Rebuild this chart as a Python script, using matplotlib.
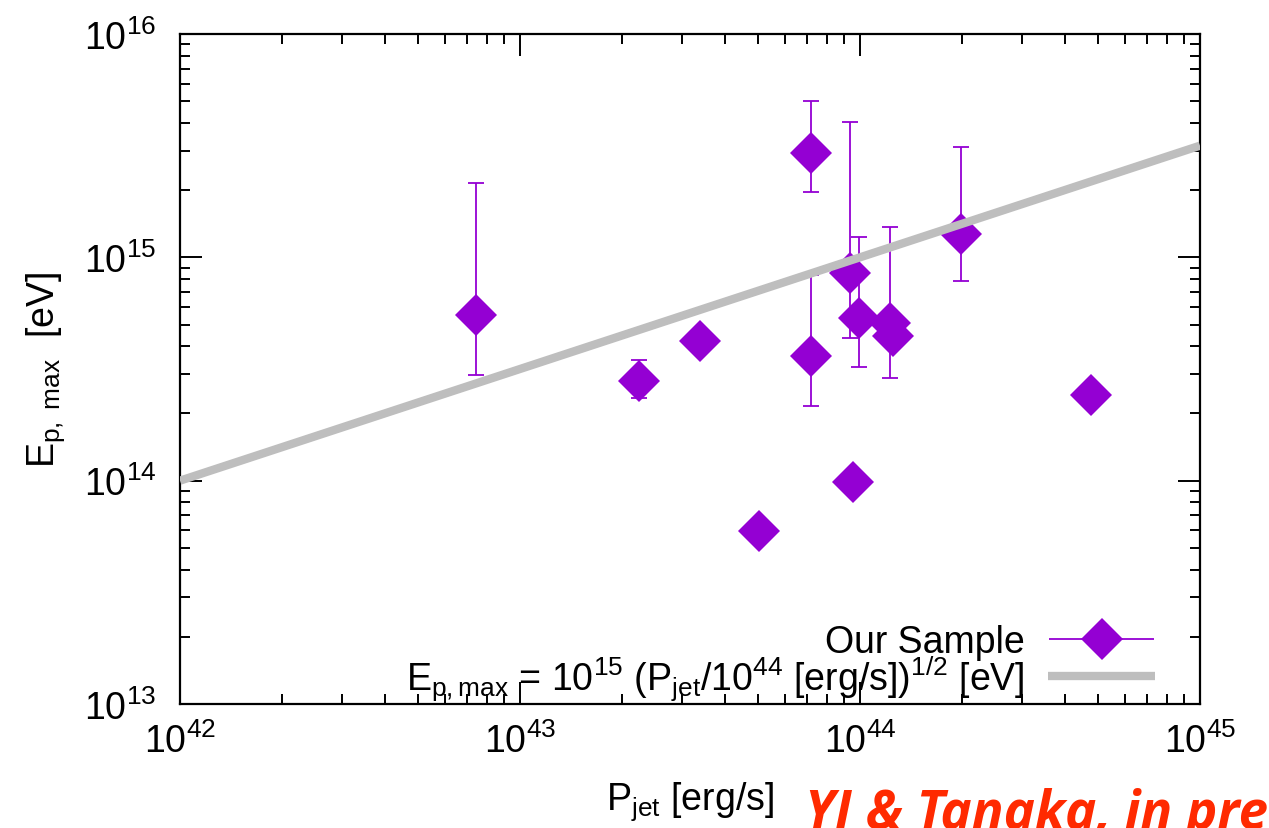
import numpy as np
import matplotlib
matplotlib.use("Agg")
import matplotlib.pyplot as plt
from matplotlib.ticker import LogLocator, NullFormatter, FixedLocator
from matplotlib.container import ErrorbarContainer
from matplotlib.legend_handler import HandlerErrorbar

plt.rcParams['font.family'] = ['Liberation Sans', 'DejaVu Sans']
plt.rcParams['mathtext.fontset'] = 'custom'
plt.rcParams['mathtext.rm'] = 'Liberation Sans'
plt.rcParams['mathtext.it'] = 'Liberation Sans:italic'
plt.rcParams['mathtext.default'] = 'regular'

# ---- data ----
p_jet = [7.42e42, 2.24e43, 3.39e43, 7.19e43, 7.16e43, 9.35e43, 9.93e43,
         1.225e44, 1.253e44, 1.98e44, 9.54e43, 5.05e43, 4.77e44]
e_pmax = [5.54e14, 2.80e14, 4.21e14, 2.93e15, 3.63e14, 8.51e14, 5.37e14,
          5.08e14, 4.46e14, 1.272e15, 9.89e13, 5.93e13, 2.42e14]
e_low = [2.97e14, 2.35e14, np.nan, 1.955e15, 2.17e14, 4.34e14, 3.24e14,
         2.87e14, np.nan, 7.86e14, np.nan, np.nan, np.nan]
e_high = [2.145e15, 3.48e14, np.nan, 5.01e15, 8.3e14, 4.02e15, 1.237e15,
          1.363e15, np.nan, 3.12e15, np.nan, np.nan, np.nan]

x_ticks = [1e42, 1e43, 1e44, 1e45]
x_ticklabels = ['10$^{42}$', '10$^{43}$', '10$^{44}$', '10$^{45}$']
y_ticks = [1e13, 1e14, 1e15, 1e16]
y_ticklabels = ['10$^{13}$', '10$^{14}$', '10$^{15}$', '10$^{16}$']

model_range = [1e42, 1e45]
model_norm_E = 1e15
model_norm_P = 1e44
model_index = 0.5

label_data = 'Our Sample'
label_model = 'E$_{p,max}$ = 10$^{15}$ (P$_{jet}$/10$^{44}$ [erg/s])$^{1/2}$ [eV]'

purple = '#9400d3'
grey = '#bebebe'
FS = 27

fig = plt.figure(figsize=(12.69, 8.29), dpi=100)
ax = fig.add_axes([180/1269, 1-705/829, 1020/1269, 670/829])
ax.set_xscale('log')
ax.set_yscale('log')
ax.set_xlim(1e42, 1e45)
ax.set_ylim(1e13, 1e16)

x = np.array(p_jet)
y = np.array(e_pmax)
lo = np.array(e_low)
hi = np.array(e_high)
m = np.isfinite(lo)

ax.errorbar(x[m], y[m], yerr=[y[m]-lo[m], hi[m]-y[m]], fmt='none',
            ecolor=purple, elinewidth=1.3, capsize=5.5, capthick=1.3, zorder=2)
ax.plot(x, y, linestyle='none', marker='D', markersize=21.5,
        color=purple, markeredgewidth=0, zorder=3)

# legend proxy: diamond with horizontal error bar
proxy = ax.errorbar([np.nan], [np.nan], xerr=[1.0], fmt='D', markersize=21.5,
                    color=purple, markeredgewidth=0, ecolor=purple,
                    elinewidth=1.3, capsize=5.5, capthick=1.3, label=label_data)

P = np.logspace(np.log10(model_range[0]), np.log10(model_range[1]), 50)
E = model_norm_E * (P/model_norm_P)**model_index
line, = ax.plot(P, E, color=grey, linewidth=6, zorder=4, label=label_model,
                solid_capstyle='butt')

ax.xaxis.set_major_locator(FixedLocator(x_ticks))
ax.set_xticklabels(x_ticklabels)
ax.yaxis.set_major_locator(FixedLocator(y_ticks))
ax.set_yticklabels(y_ticklabels)
ax.xaxis.set_minor_locator(LogLocator(base=10, subs=np.arange(2, 10)))
ax.yaxis.set_minor_locator(LogLocator(base=10, subs=np.arange(2, 10)))
ax.xaxis.set_minor_formatter(NullFormatter())
ax.yaxis.set_minor_formatter(NullFormatter())

ax.tick_params(which='both', direction='in', top=True, right=True, width=1.4,
               colors='black')
ax.tick_params(which='major', length=16, labelsize=FS)
ax.tick_params(which='minor', length=7.5)
ax.tick_params(axis='y', which='major', pad=17)
ax.tick_params(axis='x', which='major', pad=13)
for s in ax.spines.values():
    s.set_linewidth(1.6)

ax.set_xlabel('P$_{jet}$ [erg/s]', fontsize=FS, labelpad=14)
ax.set_ylabel('E$_{p,\\ max}$  [eV]', fontsize=FS, labelpad=12)

leg = ax.legend(handles=[proxy, line], loc='lower right', frameon=False,
                markerfirst=False, fontsize=FS, handlelength=2.85,
                handletextpad=0.62, labelspacing=-0.2, borderpad=0,
                bbox_to_anchor=((1155-180)/1020, 0.003),
                borderaxespad=0,
                handler_map={ErrorbarContainer: HandlerErrorbar(xerr_size=1.4)})

fig.text(805/1269, 1-829/829, 'YI & Tanaka, in prep.', color='#ff2a00',
         fontsize=38, fontweight='bold', fontstyle='italic',
         family=['Open Sans', 'DejaVu Sans'], ha='left', va='baseline')

fig.savefig('out.png', dpi=100)
